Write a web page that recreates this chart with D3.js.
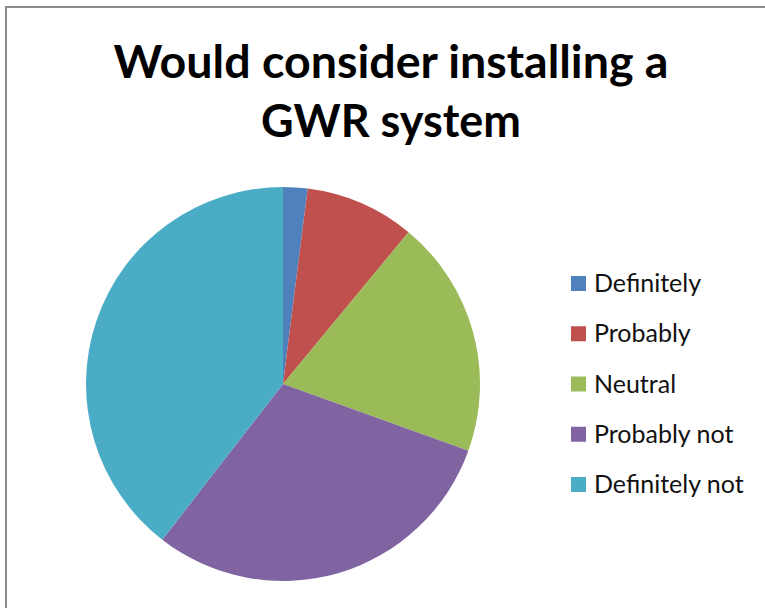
<!DOCTYPE html>
<html>
<head>
<meta charset="utf-8">
<script src="https://cdn.jsdelivr.net/npm/d3@7"></script>
<style>
  html, body { margin: 0; padding: 0; background: #fff; }
  svg { display: block; }
</style>
</head>
<body>
<script>
// Survey answers and their share of respondents (%)
const categories = ["Definitely", "Probably", "Neutral", "Probably not", "Definitely not"];
const values = [2, 9, 19.5, 30, 39.5];
const colors = ["#4F81BD", "#C0504D", "#9BBB59", "#8064A2", "#4BACC6"];
const titleLines = ["Would consider installing a", "GWR system"];

const width = 765, height = 608;
const svg = d3.select("body").append("svg")
  .attr("width", width).attr("height", height);

// Chart area frame
svg.append("rect")
  .attr("x", 6).attr("y", 7)
  .attr("width", 820).attr("height", 700)
  .attr("fill", "#fff")
  .attr("stroke", "#8a8a8a").attr("stroke-width", 2);

// Title
const title = svg.append("g")
  .attr("font-family", "Lato, 'Open Sans', sans-serif")
  .attr("font-weight", "bold")
  .attr("font-size", 45)
  .attr("fill", "#000")
  .attr("text-anchor", "middle");
const titleWidths = [555, 260];
titleLines.forEach((t, i) => {
  title.append("text")
    .attr("x", 391)
    .attr("y", 78 + i * 59)
    .attr("textLength", titleWidths[i])
    .attr("lengthAdjust", "spacingAndGlyphs")
    .text(t);
});

// Pie
const cx = 283, cy = 384, r = 197;
const pie = d3.pie().sort(null).value(d => d.value)
  .startAngle(0).endAngle(2 * Math.PI);
const arc = d3.arc().innerRadius(0).outerRadius(r);
const color = d3.scaleOrdinal().domain(categories).range(colors);
const data = categories.map((c, i) => ({ name: c, value: values[i] }));

svg.append("g")
  .attr("transform", `translate(${cx},${cy})`)
  .selectAll("path")
  .data(pie(data))
  .join("path")
  .attr("d", arc)
  .attr("fill", d => color(d.data.name));

// Legend
const legendY = d3.scalePoint().domain(categories).range([292, 493]);
const legend = svg.append("g")
  .attr("font-family", "Lato, 'Open Sans', sans-serif")
  .attr("font-size", 25)
  .attr("fill", "#111");
const items = legend.selectAll("g")
  .data(categories)
  .join("g")
  .attr("transform", d => `translate(571,${legendY(d)})`);
items.append("rect")
  .attr("x", 0).attr("y", -16)
  .attr("width", 15).attr("height", 15)
  .attr("fill", d => color(d));
items.append("text")
  .attr("x", 23).attr("y", 0)
  .text(d => d);
</script>
</body>
</html>
